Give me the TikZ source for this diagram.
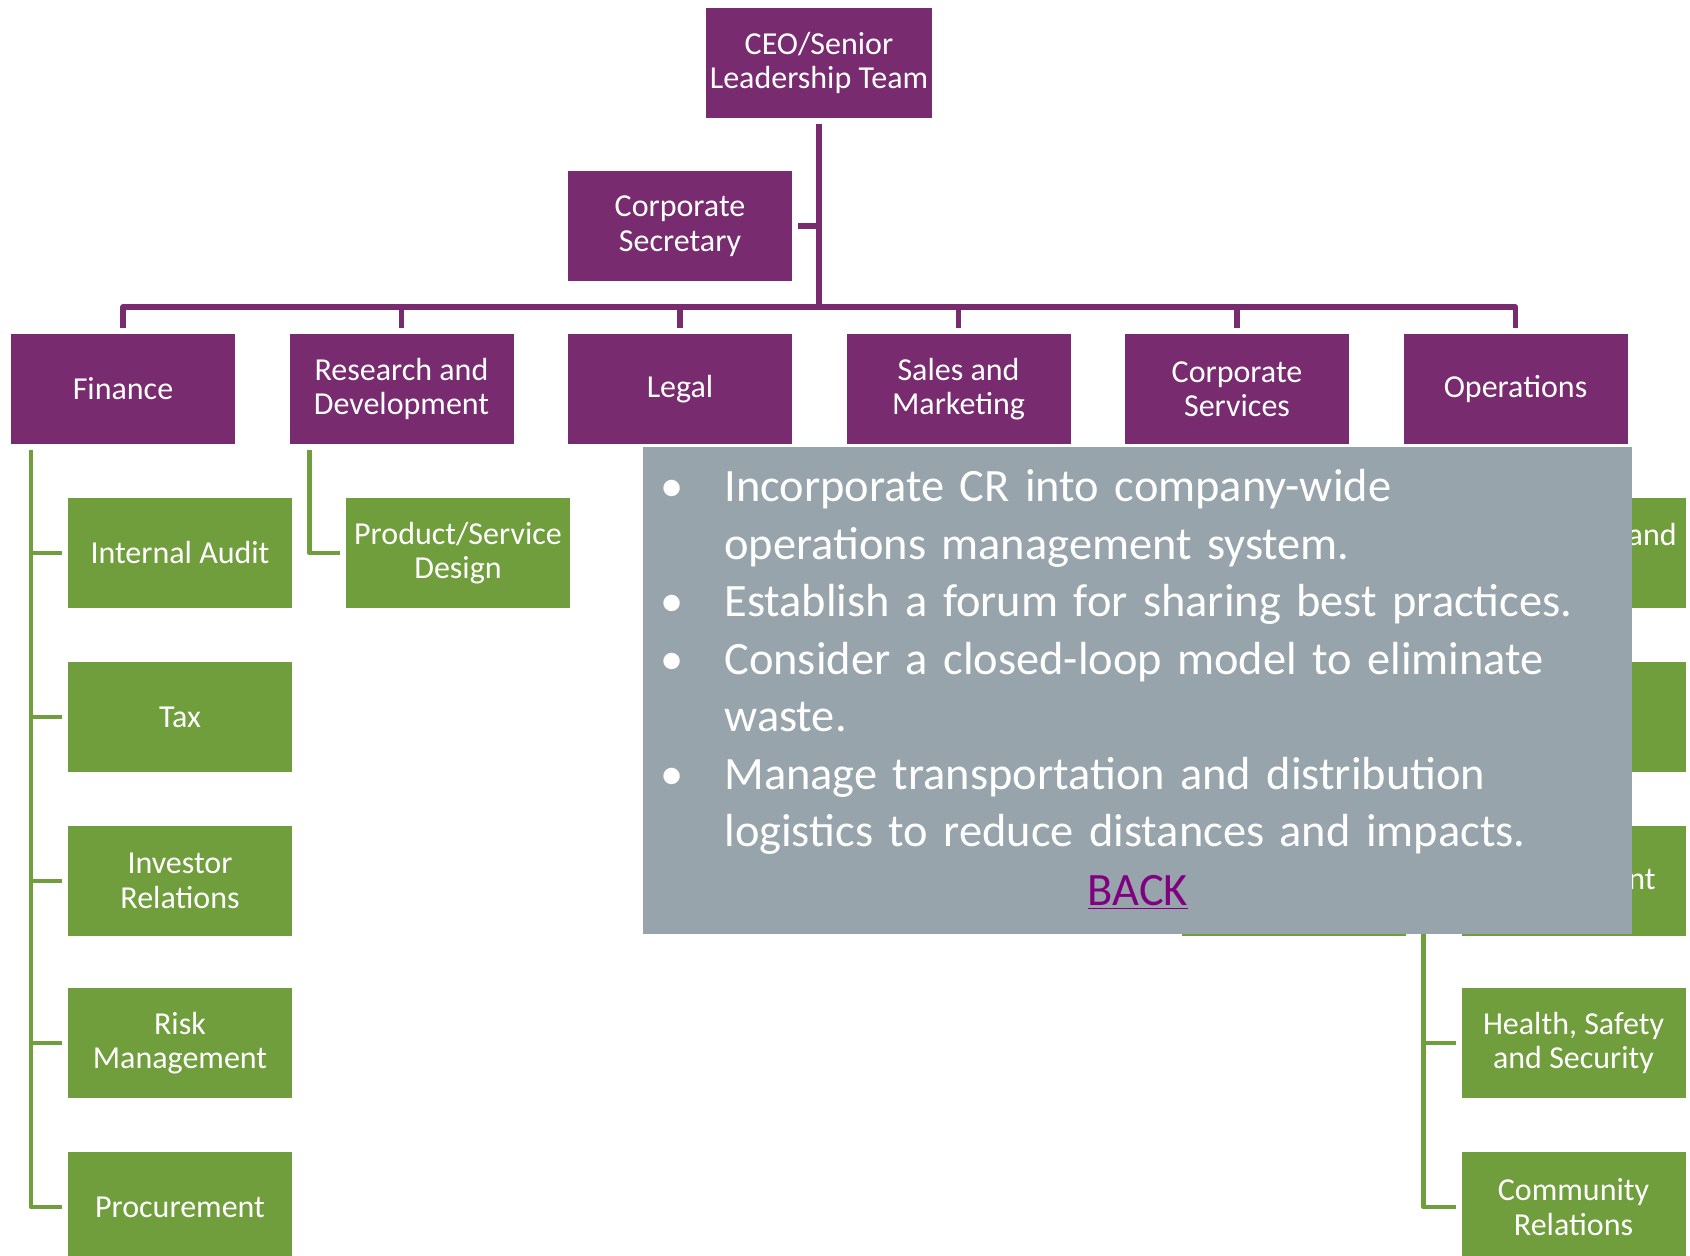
\documentclass[tikz,border=0pt]{standalone}
\usepackage{fontspec}
\setmainfont{Carlito}
\definecolor{orgpurple}{RGB}{120,43,111}
\definecolor{orggreen}{RGB}{112,158,61}
\definecolor{notegray}{RGB}{151,164,171}
\definecolor{backpurple}{RGB}{128,0,128}
\newcommand{\crpoint}[1]{\noindent\hangindent=32pt\hangafter=1\makebox[32pt][l]{\textbullet}#1\par}
\tikzset{
  unit/.style={rectangle, minimum width=112pt, minimum height=55pt, inner sep=2pt, outer sep=3pt,
    text=white, align=center, font=\fontsize{16}{17.25}\selectfont},
  dept/.style={unit, fill=orgpurple},
  team/.style={unit, fill=orggreen},
  purpleline/.style={draw=orgpurple, line width=2.75pt, line join=round},
  greenline/.style={draw=orggreen, line width=2.25pt, line join=round},
  teamtext/.style={text=white, inner sep=0, font=\fontsize{16}{17.25}\selectfont},
}
\begin{document}
\begin{tikzpicture}[x=0.5pt,y=-0.5pt]
    \useasboundingbox (0,0) rectangle (1690,1256);
    \node[dept] (ceo) at (819,63) {CEO/Senior\\Leadership Team};
    \node[dept] (sec) at (680,226) {Corporate\\Secretary};
    \node[dept] (fin) at (123,389) {Finance};
    \node[dept] (rnd) at (401.5,389) {Research and\\Development};
    \node[dept] (legal) at (680,389) {Legal};
    \node[dept] (sales) at (958.5,389) {Sales and\\Marketing};
    \node[dept] (corp) at (1237,389) {Corporate\\Services};
    \node[dept] (ops) at (1515.5,389) {Operations};
    \coordinate (bus) at (819,307);
    \draw[purpleline] (ceo.south) -- (bus);
    \draw[purpleline] (sec.east) -- (sec.east -| bus);
    \draw[purpleline] (fin.north) |- (bus) -| (ops.north);
    \foreach \d in {rnd,legal,sales,corp}
        \draw[purpleline] (\d.north) -- (\d.north |- bus);
    \node[team] (audit) at (180,553) {Internal Audit};
    \node[team] (tax) at (180,717) {Tax};
    \node[team] (investor) at (180,881) {Investor\\Relations};
    \node[team] (risk) at (180,1043) {Risk\\Management};
    \node[team] (procure) at (180,1207) {Procurement};
    \node[team] (design) at (458,553) {Product/Service\\Design};
    \node[team] (corpc) at (1294,881) {};
    \node[team] (opsa) at (1573.5,553) {};
    \node[team] (opsb) at (1573.5,717) {};
    \node[team] (opsc) at (1573.5,881) {};
    \node[team] (health) at (1573.5,1043) {Health, Safety\\and Security};
    \node[team] (community) at (1573.5,1207) {Community\\Relations};
    \coordinate (fintrunk) at ([xshift=13pt]fin.south west);
    \coordinate (opstrunk) at ([xshift=13pt]ops.south west);
    \draw[greenline] (fintrunk) |- (procure.west);
    \foreach \t in {audit,tax,investor,risk}
        \draw[greenline] (\t.west) -- (\t.west -| fintrunk);
    \draw[greenline] ([xshift=13pt]rnd.south west) |- (design.west);
    \draw[greenline] (opstrunk) |- (community.west);
    \foreach \t in {opsa,opsb,opsc,health}
        \draw[greenline] (\t.west) -- (\t.west -| opstrunk);
    \node[teamtext, anchor=base east] (opsaword) at (1677,545) {and};
    \node[teamtext, anchor=base east] (opscword) at (1656,889) {nt};
    \node[fill=notegray, minimum width=494.5pt, minimum height=243.5pt, inner sep=0, anchor=north west] (note) at (643,447) {};
    \node[anchor=north west, text width=484pt, inner sep=0, text=white,
        font=\fontsize{23.2}{28.75}\selectfont] (points) at (660,469) {\raggedright
        \crpoint{Incorporate CR into company-wide\newline operations management system.}
        \crpoint{Establish a forum for sharing best practices.}
        \crpoint{Consider a closed-loop model to eliminate\newline waste.}
        \crpoint{Manage transportation and distribution\newline logistics to reduce distances and impacts.}};
    \node[anchor=base, inner sep=0, text=backpurple, font=\fontsize{23.2}{28.75}\selectfont] (back) at (1138,905) {\underline{BACK}};
\end{tikzpicture}
\end{document}
